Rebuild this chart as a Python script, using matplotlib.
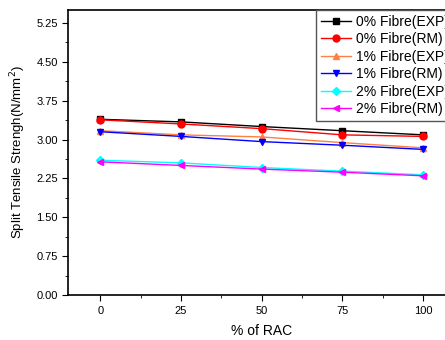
import matplotlib
matplotlib.use("Agg")
import matplotlib.pyplot as plt
from matplotlib.ticker import MultipleLocator

plt.rcParams["font.family"] = ["Liberation Sans", "DejaVu Sans"]

# ==========================
# Data
# ==========================
rac = [0, 25, 50, 75, 100]
exp_0 = [3.39, 3.34, 3.25, 3.17, 3.09]
rm_0 = [3.38, 3.30, 3.21, 3.09, 3.06]
exp_1 = [3.17, 3.09, 3.05, 2.94, 2.84]
rm_1 = [3.15, 3.06, 2.96, 2.89, 2.81]
exp_2 = [2.60, 2.55, 2.46, 2.39, 2.32]
rm_2 = [2.57, 2.50, 2.43, 2.37, 2.30]

labels = ["0% Fibre(EXP)", "0% Fibre(RM)", "1% Fibre(EXP)",
          "1% Fibre(RM)", "2% Fibre(EXP)", "2% Fibre(RM)"]

# ==========================
# Plot
# ==========================
fig = plt.figure(figsize=(4.45, 3.40), dpi=100)
ax = fig.add_axes([0.153, 0.132, 0.87, 0.839])

styles = [
    (exp_0, "black", "s"),
    (rm_0, "red", "o"),
    (exp_1, "#ff8040", "^"),
    (rm_1, "blue", "v"),
    (exp_2, "cyan", "D"),
    (rm_2, "magenta", "<"),
]
for (vals, col, mk), lab in zip(styles, labels):
    ms = 4 if mk == "D" else 5
    ax.plot(rac, vals, color=col, marker=mk, markersize=ms, linewidth=1,
            label=lab)

ax.set_xlim(-10, 110)
ax.set_ylim(0, 5.5)
ax.set_xticks(rac)
ax.set_yticks([0, 0.75, 1.5, 2.25, 3.0, 3.75, 4.5, 5.25])
ax.yaxis.set_major_formatter(plt.FormatStrFormatter("%.2f"))
ax.xaxis.set_minor_locator(MultipleLocator(12.5))
ax.yaxis.set_minor_locator(MultipleLocator(0.375))
ax.tick_params(which="major", direction="out", length=4, labelsize=8)
ax.tick_params(which="minor", direction="out", length=2)
for s in ax.spines.values():
    s.set_linewidth(1.2)

ax.set_xlabel("% of RAC", fontsize=10, labelpad=6)
ax.set_ylabel("Split Tensile Strengh(N/mm$^2$)", fontsize=9.5, labelpad=6)

leg = ax.legend(loc="upper left", bbox_to_anchor=(0.710, 0.971),
                bbox_transform=fig.transFigure, fontsize=10,
                fancybox=False, framealpha=1, edgecolor="#555555",
                handlelength=2.2, handletextpad=0.3, labelspacing=0.25,
                borderpad=0.35, borderaxespad=0)

plt.savefig("out.png", dpi=100)
plt.close()
